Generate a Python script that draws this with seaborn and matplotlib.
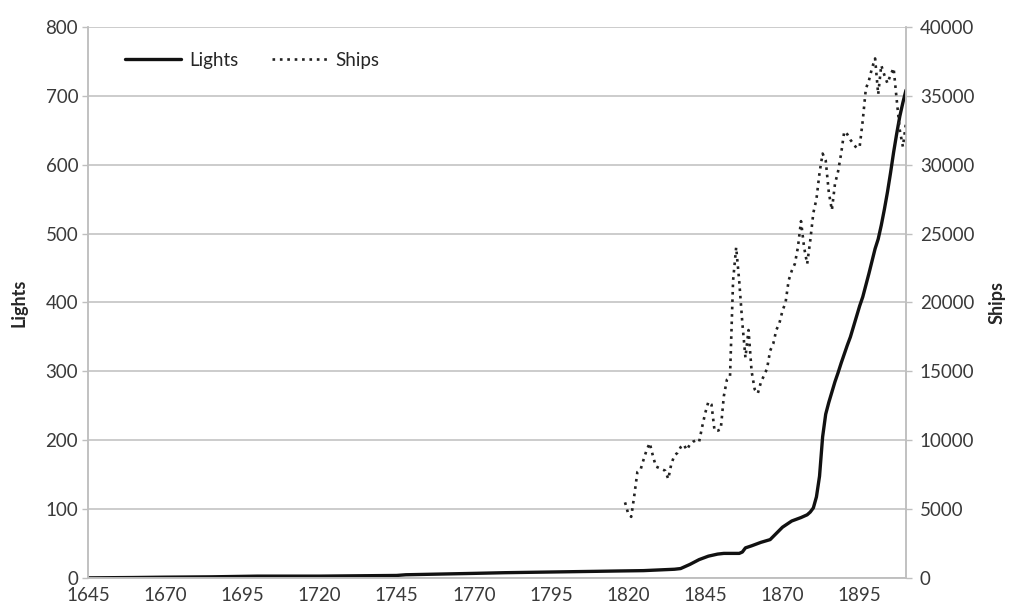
import matplotlib
matplotlib.use('Agg')
from matplotlib import pyplot as plt
import pandas as pd
import seaborn as sns

# Lights (left axis) - at the points where the curve bends
light_years = [1645, 1660, 1670, 1685, 1700, 1720, 1745, 1748, 1770, 1780, 1795,
               1810, 1817, 1825, 1835, 1837, 1840, 1843, 1846, 1849, 1851, 1856,
               1857, 1858, 1860, 1863, 1866, 1868, 1870, 1873, 1876, 1878, 1879,
               1880, 1881, 1882, 1883, 1884, 1885, 1886, 1887, 1888, 1889, 1890,
               1891, 1892, 1893, 1894, 1895, 1896, 1897, 1898, 1899, 1900, 1901,
               1902, 1903, 1904, 1905, 1906, 1907, 1908, 1909, 1910]
lights = [0.5, 1, 1.5, 2, 3, 3, 4, 5, 7, 8, 9,
          10, 10.5, 11, 13, 14, 20, 27, 32, 35, 36, 36,
          38, 44, 47, 52, 56, 65, 74, 83, 88, 92, 96,
          102, 118, 148, 205, 238, 255, 270, 285, 298, 312, 325,
          338, 350, 365, 380, 395, 408, 425, 442, 460, 478, 492,
          512, 535, 560, 588, 618, 645, 670, 690, 708]

# Ships (right axis), yearly from 1819
ship_years = list(range(1819, 1911))
ships = [5500, 4700, 4450, 6000, 7700, 7850, 8600, 9300, 9800, 8900,
         8100, 8000, 7900, 7800, 7200, 8300, 8900, 9100, 9500, 9700,
         9300, 9700, 9900, 10000, 9900, 11000, 12000, 12800, 12600, 10700,
         10700, 10800, 13200, 14400, 14600, 21600, 24000, 21500, 18500, 16000,
         18000, 15000, 13700, 13400, 14200, 14700, 15200, 16500, 17000, 18000,
         18500, 19400, 20000, 21600, 22300, 22800, 24000, 25900, 24000, 22800,
         24500, 26500, 27500, 29400, 30800, 30300, 28000, 26700, 28600, 29500,
         30800, 32400, 32200, 31800, 31500, 31200, 31300, 33200, 35500, 36100,
         37000, 37700, 35100, 37200, 36500, 35900, 36500, 37000, 34700, 32500,
         31300, 33000]

x_ticks = list(range(1645, 1911, 25))


def main():
    sns.set_style("white")
    plt.rcParams['font.family'] = ['Lato', 'DejaVu Sans']

    df_lights = pd.DataFrame({'year': light_years, 'value': lights})
    df_ships = pd.DataFrame({'year': ship_years, 'value': ships})

    fig, ax = plt.subplots(figsize=(10.1, 6.08), dpi=100)
    fig.subplots_adjust(left=0.087, right=0.897, bottom=0.049, top=0.956)
    ax2 = ax.twinx()

    sns.lineplot(data=df_lights, x='year', y='value', ax=ax, color='#111111',
                 linewidth=2.4, label='Lights', legend=False)
    sns.lineplot(data=df_ships, x='year', y='value', ax=ax2, color='#222222',
                 linewidth=1.9, linestyle=(0, (1, 1.8)), label='Ships', legend=False)

    tick_color = '#3a3a3a'
    grid_color = '#bfbfbf'

    ax.set_xlim(1645, 1910)
    ax.set_ylim(0, 800)
    ax2.set_ylim(0, 40000)
    ax.set_xticks(x_ticks)
    ax.set_yticks(range(0, 801, 100))
    ax2.set_yticks(range(0, 40001, 5000))

    ax.yaxis.grid(True, color=grid_color, linewidth=1.1)
    ax.set_axisbelow(True)
    for a in (ax, ax2):
        for side in ('left', 'right', 'bottom'):
            a.spines[side].set_color(grid_color)
            a.spines[side].set_linewidth(1.1)
        a.spines['top'].set_visible(False)
        a.tick_params(labelsize=13.5, colors=tick_color, length=4, width=1,
                      color=grid_color)
    ax.tick_params(axis='x', length=0, pad=6)
    ax.tick_params(axis='y', pad=3)
    ax2.tick_params(axis='y', pad=6)

    ax.set_xlabel('')
    ax.set_ylabel('Lights', fontsize=13, fontweight='bold', color='#262626', labelpad=13)
    ax2.set_ylabel('Ships', fontsize=13, fontweight='bold', color='#262626', labelpad=10)

    handles = ax.get_lines()[:1] + ax2.get_lines()[:1]
    ax.legend(handles, ['Lights', 'Ships'], loc='upper left', ncol=2, frameon=False,
              fontsize=13.5, bbox_to_anchor=(0.025, 0.985), handlelength=3.0,
              handletextpad=0.4, columnspacing=1.8, labelcolor='#262626')

    plt.savefig('out.png', dpi=100)


if __name__ == '__main__':
    main()
